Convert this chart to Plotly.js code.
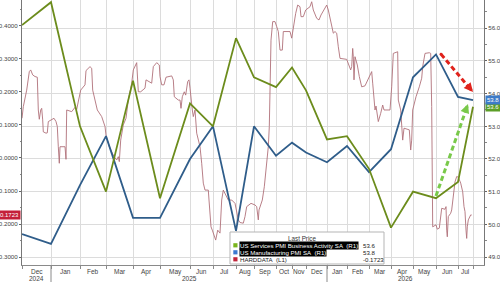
<!DOCTYPE html>
<html>
<head>
<meta charset="utf-8">
<script src="https://cdn.plot.ly/plotly-3.0.1.min.js"></script>
<style>
  html, body { margin: 0; padding: 0; background: #fff; }
  #chart { width: 500px; height: 282px; }
</style>
</head>
<body>
<div id="chart"></div>
<script>
// Session axis: observations per calendar month, Dec 2024 .. Jun 2026
const obsPerMonth = [29, 29, 26, 27, 27, 30, 23, 23, 18, 22, 16, 14, 21, 20, 22, 22, 22, 23, 22];
const monthNames = ['Dec','Jan','Feb','Mar','Apr','May','Jun','Jul','Aug','Sep','Oct','Nov','Dec','Jan','Feb','Mar','Apr','May','Jun','Jul'];
const monthYears = [2024,2025,2025,2025,2025,2025,2025,2025,2025,2025,2025,2025,2025,2026,2026,2026,2026,2026,2026,2026];
const flashObs = 15;      // July flash print, sessions into the month
const axisEndObs = 462;   // right end of the session axis

// Left axis tick levels
const leftTicks = [-0.3, -0.2, -0.1, 0, 0.1, 0.2, 0.3, 0.4];

// Monthly PMI prints (Nov 2024 .. Jun 2026, then the July 2026 flash)
const servicesPMI = [56.1, 56.8, 53.0, 51.0, 54.4, 50.8, 53.7, 53.0, 55.7, 54.5, 54.2, 54.8, 54.1, 52.6, 52.7, 51.7, 49.9, 51.0, 50.8, 51.3, 53.6];
const manufacturingPMI = [49.7, 49.4, 51.2, 52.7, 50.2, 50.2, 52.0, 53.0, 49.8, 53.0, 52.1, 52.5, 52.2, 51.9, 52.4, 51.6, 52.3, 54.5, 55.2, 53.9, 53.8];

// HARDDATA index: session number and level
const hardObs = [0,1.3,4.7,7.3,8.7,10.7,13,15.3,16.3,17.3,18.7,19.7,20.7,21.3,24,25.3,26.3,29.7,32,34,35.3,36.3,37.3,38,43,44,44.7,49.7,53,54.7,56.3,58.7,63,64,68,69.7,70.7,72,75.3,79.7,83,84,87.3,92,94.7,96.3,97.3,98.7,101.3,104,106.3,109.7,111.3,114.7,115.3,116.3,118.7,123,124,126.3,129.7,131.3,134.7,137.3,138,139.7,142,144,149.7,151.3,152.3,156.3,158,159,160.3,162.3,163.7,165.7,167,168,169,170.3,171.3,173,174.7,178,179.7,181.3,183,186.3,187,189,190.3,193.7,195.7,198,199.7,201.3,206.3,209.7,213,216.3,218,221.3,223,224.7,229,233,234.7,236.3,237,240.3,242.3,244.7,246.3,247.3,248,249,250.7,253,254.7,256.3,258,260.3,261.3,268,269.7,271.3,273.7,275.7,278,279,281.3,283.7,288,289.7,291.3,294.7,297,299,303,304.7,306.3,309.7,311.3,313,314.7,316.3,318,324.7,326.3,328.7,329.7,330.7,331.3,332,333,335.3,337.3,339.7,343,346.3,349.7,350.7,352,353,354,356.3,358.7,360.7,362,368,369.7,371.3,375.7,376.3,378.7,379.7,380.7,382,387.3,388.7,389.7,390.7,394,397.3,399.7,400.7,403,407.3,408.7,409.7,410.7,414,415.3,417.3,418.7,419.7,423,424,424.7,425.3,426.3,428.7,429.7,431.3,433,434.7,436.3,438.7,440.7,442,443,444,444.7,445.3,446.3,448.7,449.7];
const hardValue = [0.120,0.155,0.205,0.261,0.266,0.251,0.246,0.244,0.145,0.117,0.145,0.150,0.115,0.079,0.075,0.076,0.110,0.115,0.120,0.110,0.095,0.034,-0.016,0.034,0.034,-0.004,0.145,0.140,0.153,0.147,0.175,0.205,0.221,0.264,0.276,0.271,0.205,0.185,0.145,0.125,0.095,0.069,0.034,0.004,-0.006,0.004,-0.011,0.054,0.100,0.120,0.175,0.226,0.266,0.288,0.246,0.200,0.200,0.211,0.236,0.231,0.226,0.276,0.288,0.281,0.246,0.221,0.221,0.244,0.248,0.236,0.185,0.175,0.175,0.150,0.185,0.200,0.190,0.231,0.236,0.211,0.175,0.145,0.125,0.145,0.075,0.034,-0.016,-0.076,-0.097,-0.097,-0.127,-0.208,-0.218,-0.248,-0.218,-0.227,-0.127,-0.097,-0.127,-0.127,-0.137,-0.187,-0.195,-0.197,-0.177,-0.147,-0.137,-0.142,-0.147,-0.187,-0.157,-0.127,-0.087,-0.006,0.034,0.095,0.226,0.356,0.412,0.412,0.397,0.382,0.326,0.326,0.382,0.382,0.362,0.397,0.437,0.462,0.457,0.427,0.427,0.447,0.457,0.472,0.447,0.422,0.417,0.432,0.452,0.462,0.447,0.392,0.377,0.382,0.377,0.336,0.301,0.298,0.286,0.266,0.276,0.331,0.306,0.236,0.306,0.281,0.246,0.215,0.218,0.241,0.261,0.226,0.175,0.145,0.157,0.110,0.135,0.160,0.145,0.145,0.215,0.316,0.321,0.175,0.145,0.105,0.054,0.090,0.085,0.024,0.054,0.145,0.185,0.215,0.241,0.276,0.316,0.318,0.316,0.155,-0.208,-0.202,-0.215,-0.212,-0.177,-0.152,-0.155,-0.147,-0.218,-0.238,-0.177,-0.167,-0.157,-0.107,-0.072,-0.056,-0.058,-0.076,-0.102,-0.147,-0.162,-0.218,-0.243,-0.208,-0.187,-0.172,-0.1723];

// ---- derived positions on the session axis ----
const monthStart = [0];
obsPerMonth.forEach(n => monthStart.push(monthStart[monthStart.length - 1] + n));
const lastObs = monthStart[monthStart.length - 1] + flashObs;
const pmiObs = monthStart.concat([lastObs]);

// ---- frame geometry ----
const W = 500, H = 282;
const M = { l: 22, r: 16, t: 0, b: 17 };
const plotW = W - M.l - M.r, plotH = H - M.t - M.b;
const px2paperX = px => (px - M.l) / plotW;
const py2paperY = py => (H - M.b - py) / plotH;
const obs2paper = o => o / axisEndObs;

const COL = {
  services: '#6c8c1c', servicesKey: '#7ab51d', servicesTag: '#5c9e27',
  manuf: '#2f5d8a', manufKey: '#3b7ad1', manufTag: '#3d7bc8',
  hard: '#b07179', hardKey: '#c0243a', hardTag: '#c4203a',
  grid: '#dcdcdc', axis: '#8a8a8a', text: '#444'
};
const FONT = 'Liberation Sans, Arial, sans-serif';

const traces = [
  { x: hardObs, y: hardValue, type: 'scatter', mode: 'lines', yaxis: 'y',
    line: { color: COL.hard, width: 0.9 }, hoverinfo: 'skip' },
  { x: pmiObs, y: manufacturingPMI, type: 'scatter', mode: 'lines', yaxis: 'y2',
    line: { color: COL.manuf, width: 1.8 }, hoverinfo: 'skip' },
  { x: pmiObs, y: servicesPMI, type: 'scatter', mode: 'lines', yaxis: 'y2',
    line: { color: COL.services, width: 1.8 }, hoverinfo: 'skip' }
];

const annotations = [];
const shapes = [];

// month and year labels beneath the session axis
monthNames.forEach((m, i) => {
  const a = monthStart[i];
  const b = i + 1 < monthStart.length ? monthStart[i + 1] : lastObs;
  annotations.push({ x: (a + b) / 2, xref: 'x', y: py2paperY(271.5), yref: 'paper',
    text: m, showarrow: false, font: { family: FONT, size: 6.5, color: COL.text },
    xanchor: 'center', yanchor: 'middle' });
});
const years = [...new Set(monthYears)];
years.forEach(yr => {
  const idx = monthYears.map((v, i) => v === yr ? i : -1).filter(i => i >= 0);
  const a = monthStart[idx[0]];
  const b = idx[idx.length - 1] + 1 < monthStart.length ? monthStart[idx[idx.length - 1] + 1] : axisEndObs;
  annotations.push({ x: (a + b) / 2, xref: 'x', y: py2paperY(278.5), yref: 'paper',
    text: String(yr), showarrow: false, font: { family: FONT, size: 6.5, color: COL.text },
    xanchor: 'center', yanchor: 'middle' });
  if (idx[0] > 0) {
    shapes.push({ type: 'line', xref: 'paper', yref: 'paper',
      x0: obs2paper(a), x1: obs2paper(a), y0: 0, y1: py2paperY(H),
      line: { color: COL.axis, width: 1 } });
  }
});

// last-price tags on both value axes
const lastHard = hardValue[hardValue.length - 1];
const lastServ = servicesPMI[servicesPMI.length - 1];
const lastManuf = manufacturingPMI[manufacturingPMI.length - 1];
annotations.push({ x: 0, xref: 'paper', y: lastHard, yref: 'y', text: lastHard.toFixed(4),
  showarrow: false, xanchor: 'right', yanchor: 'middle', xshift: -1,
  bgcolor: COL.hardTag, borderpad: 1, font: { family: FONT, size: 6, color: '#fff' } });
annotations.push({ x: 1, xref: 'paper', y: lastServ, yref: 'y2', text: lastServ.toFixed(1),
  showarrow: false, xanchor: 'left', yanchor: 'middle', xshift: 1,
  bgcolor: COL.servicesTag, borderpad: 1, font: { family: FONT, size: 6, color: '#fff' } });
annotations.push({ x: 1, xref: 'paper', y: lastManuf, yref: 'y2', text: lastManuf.toFixed(1),
  showarrow: false, xanchor: 'left', yanchor: 'middle', xshift: 1,
  bgcolor: COL.manufTag, borderpad: 1, font: { family: FONT, size: 6, color: '#fff' } });

// direction arrows: manufacturing easing, services rebounding
shapes.push({ type: 'line', xref: 'x', yref: 'y2', x0: 419, y0: 55.21, x1: 447.1, y1: 54.19,
  line: { color: '#e0231c', width: 3, dash: '5px,3px' } });
shapes.push({ type: 'circle', xref: 'x', yref: 'y2', x0: 417.6, x1: 420.4, y0: 55.17, y1: 55.25,
  fillcolor: '#e0231c', line: { width: 0 } });
annotations.push({ x: lastObs, xref: 'x', y: 54.05, yref: 'y2', text: '', showarrow: true,
  ax: -6, ay: -7, arrowhead: 2, arrowsize: 0.6, arrowwidth: 3, arrowcolor: '#e0231c', standoff: 0 });
shapes.push({ type: 'line', xref: 'x', yref: 'y2', x0: 414, y0: 50.87, x1: 443.7, y1: 53.48,
  line: { color: '#79c94a', width: 3, dash: '5px,3px' } });
annotations.push({ x: 446, xref: 'x', y: 53.68, yref: 'y2', text: '', showarrow: true,
  ax: -3, ay: 8, arrowhead: 2, arrowsize: 0.6, arrowwidth: 3, arrowcolor: '#79c94a', standoff: 0 });

// legend panel
shapes.push({ type: 'rect', xref: 'paper', yref: 'paper',
  x0: px2paperX(230), x1: px2paperX(384), y0: py2paperY(264), y1: py2paperY(232),
  fillcolor: '#fff', line: { color: '#b5b5b5', width: 1 }, layer: 'above' });
annotations.push({ x: px2paperX(302), xref: 'paper', y: py2paperY(238.3), yref: 'paper',
  text: 'Last Price', showarrow: false, xanchor: 'center', yanchor: 'middle',
  font: { family: FONT, size: 6.3, color: '#333' } });
const rows = [
  { key: COL.servicesKey, name: 'US Services PMI Business Activity SA\u00a0\u00a0(R1)', val: lastServ.toFixed(1), inverse: true },
  { key: COL.manufKey, name: 'US Manufacturing PMI SA\u00a0\u00a0(R1)', val: lastManuf.toFixed(1), inverse: true },
  { key: COL.hardKey, name: 'HARDDATA\u00a0\u00a0(L1)', val: lastHard.toFixed(4), inverse: false }
];
rows.forEach((r, i) => {
  const cy = 245.3 + i * 7;
  shapes.push({ type: 'rect', xref: 'paper', yref: 'paper', layer: 'above',
    x0: px2paperX(233.3), x1: px2paperX(237.5), y0: py2paperY(cy + 2.1), y1: py2paperY(cy - 2.1),
    fillcolor: r.key, line: { width: 0 } });
  annotations.push({ x: px2paperX(239.3), xref: 'paper', y: py2paperY(cy), yref: 'paper',
    text: r.name, showarrow: false, xanchor: 'left', yanchor: 'middle',
    bgcolor: r.inverse ? '#000' : 'rgba(0,0,0,0)', borderpad: 0,
    font: { family: FONT, size: 6.1, color: r.inverse ? '#fff' : '#222' } });
  annotations.push({ x: px2paperX(360.5), xref: 'paper', y: py2paperY(cy), yref: 'paper',
    text: r.val, showarrow: false, xanchor: 'left', yanchor: 'middle',
    font: { family: FONT, size: 6.1, color: '#222' } });
});

const tickFont = { family: FONT, size: 6.2, color: COL.text };
const layout = {
  width: W, height: H, margin: M,
  paper_bgcolor: '#fff', plot_bgcolor: '#fff',
  showlegend: false, hovermode: false,
  xaxis: {
    range: [0, axisEndObs], tickmode: 'array', tickvals: pmiObs,
    ticktext: pmiObs.map(() => ''), ticks: 'outside', ticklen: 3, tickcolor: COL.axis,
    showgrid: true, gridcolor: COL.grid, gridwidth: 1, zeroline: false,
    showline: true, linecolor: COL.axis, linewidth: 1
  },
  yaxis: {
    range: [-0.3233, 0.4773], tickmode: 'array', tickvals: leftTicks,
    ticktext: leftTicks.map(v => v.toFixed(4)),
    ticks: 'outside', ticklen: 2, tickcolor: '#666', tickfont: tickFont,
    minor: { dtick: 0.05, ticks: 'outside', ticklen: 1.5, tickcolor: '#888', showgrid: false },
    showgrid: false, zeroline: false, showline: true, linecolor: '#777', linewidth: 1
  },
  yaxis2: {
    overlaying: 'y', side: 'right', range: [48.755, 56.867], tick0: 49, dtick: 1,
    tickformat: '.1f', ticks: 'outside', ticklen: 2, tickcolor: '#666', tickfont: tickFont,
    minor: { dtick: 0.5, ticks: 'outside', ticklen: 1.5, tickcolor: '#888', showgrid: false },
    showgrid: true, gridcolor: COL.grid, gridwidth: 1, zeroline: false,
    showline: true, linecolor: '#777', linewidth: 1
  },
  shapes: shapes,
  annotations: annotations
};

Plotly.newPlot('chart', traces, layout, { staticPlot: true, displayModeBar: false });
</script>
</body>
</html>
